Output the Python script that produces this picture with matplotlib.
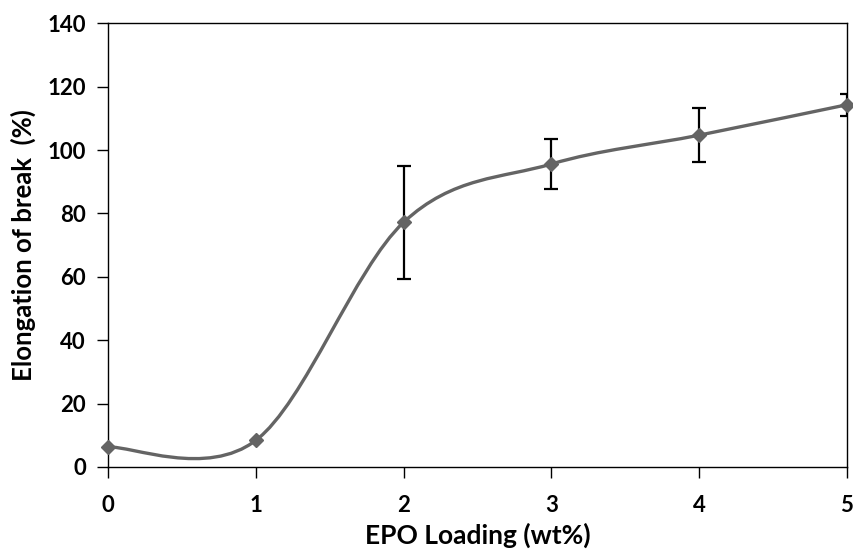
import numpy as np
import matplotlib
matplotlib.use('Agg')
import matplotlib.pyplot as plt
from matplotlib.path import Path
from matplotlib.patches import PathPatch

plt.rcParams['font.family'] = ['Lato', 'DejaVu Sans']
plt.rcParams['font.weight'] = 'bold'

# data
epo_loading = [0, 1, 2, 3, 4, 5]
elongation = [6.3, 8.4, 77.2, 95.6, 104.7, 114.3]
elong_err = [0, 0, 17.8, 7.9, 8.5, 3.5]

x_ticks = [0, 1, 2, 3, 4, 5]
y_ticks = [0, 20, 40, 60, 80, 100, 120, 140]

line_col = '#646464'

fig = plt.figure(figsize=(8.54, 5.49), dpi=100)
ax = fig.add_axes([0.1265, 0.1494, 0.8653, 0.8082])

# excel-style smoothed line: cubic bezier segments through the points
px = np.array(epo_loading, dtype=float)
py = np.array(elongation, dtype=float)
n = len(px)
verts = [(px[0], py[0])]
codes = [Path.MOVETO]
for i in range(n - 1):
    im1 = max(i - 1, 0)
    ip2 = min(i + 2, n - 1)
    c1 = (px[i] + (px[i + 1] - px[im1]) / 6., py[i] + (py[i + 1] - py[im1]) / 6.)
    c2 = (px[i + 1] - (px[ip2] - px[i]) / 6., py[i + 1] - (py[ip2] - py[i]) / 6.)
    verts += [c1, c2, (px[i + 1], py[i + 1])]
    codes += [Path.CURVE4] * 3
ax.add_patch(PathPatch(Path(verts, codes), fill=False, edgecolor=line_col,
                       lw=2.4, zorder=2, capstyle='round'))

# error bars (only where there is one)
err = np.array(elong_err)
m = err > 0
ax.errorbar(px[m], py[m], yerr=err[m], fmt='none', ecolor='black',
            elinewidth=1.6, capsize=5, capthick=1.6, zorder=3)

ax.plot(px, py, linestyle='none', marker='D', markersize=7.5,
        color=line_col, zorder=4, clip_on=False)

ax.set_xlim(0, 5)
ax.set_ylim(0, 140)
ax.set_xticks(x_ticks)
ax.set_yticks(y_ticks)
ax.tick_params(direction='out', length=8, width=1, labelsize=16)
ax.tick_params(axis='x', pad=12)
ax.tick_params(axis='y', pad=8)
for s in ax.spines.values():
    s.set_linewidth(1)
    s.set_color('black')

ax.set_xlabel('EPO Loading (wt%)', fontsize=19, fontweight='bold', labelpad=5)
ax.yaxis.set_label_coords(-0.098, 0.52)
ax.set_ylabel('Elongation of break  (%)', fontsize=18.5, fontweight='bold')

fig.savefig('out.png', dpi=100)
